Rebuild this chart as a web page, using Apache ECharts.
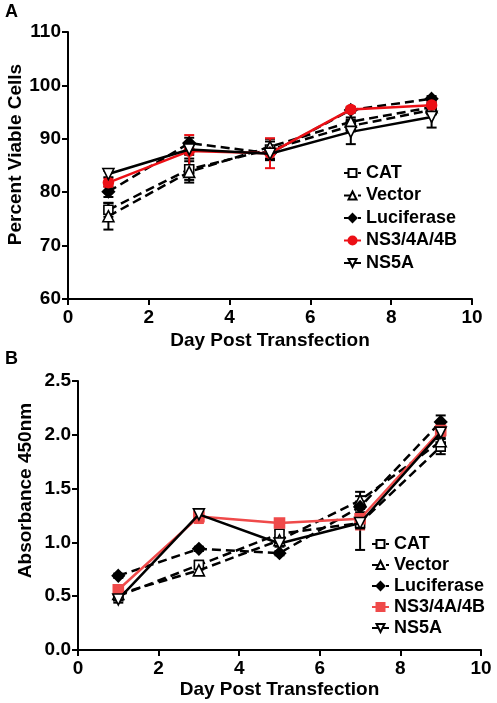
<!DOCTYPE html>
<html>
<head>
<meta charset="utf-8">
<script src="https://cdn.jsdelivr.net/npm/echarts@6/dist/echarts.min.js"></script>
<style>
html,body{margin:0;padding:0;background:#fff;}
#a{position:absolute;left:0;top:0;width:497px;height:350px;}
#b{position:absolute;left:0;top:350px;width:497px;height:353px;}
</style>
</head>
<body>
<div id="a"></div>
<div id="b"></div>
<script>
// ---------- data ----------
const days = [1, 3, 5, 7, 9];
const seriesNames = ['CAT', 'Vector', 'Luciferase', 'NS3/4A/4B', 'NS5A'];
const xTicks = [0, 2, 4, 6, 8, 10];

// Panel A: Percent Viable Cells
const catA    = [76.7, 84.3, 88.0, 92.4, 95.4];
const vectorA = [75.5, 83.8, 88.5, 93.2, 95.9];
const lucA    = [80.1, 89.2, 87.3, 95.4, 97.5];
const ns3A    = [81.8, 87.7, 87.3, 95.5, 96.3];
const ns5aA   = [83.4, 88.0, 87.2, 91.3, 94.1];
const catAErr    = [1.3, 2.0, 2.0, 1.0, 0.8];
const vectorAErr = [2.5, 2.0, 1.0, 0.8, 0.8];
const lucAErr    = [1.0, 1.0, 1.0, 0.5, 0.5];
const ns3AErr    = [0.8, 3.0, 2.8, 0.5, 0.8];
const ns5aAErr   = [0.6, 1.0, 1.0, 2.3, 2.0];
const yTicksA = [60, 70, 80, 90, 100, 110];

// Panel B: Absorbance 450nm
const catB    = [0.50, 0.79, 1.08, 1.18, 1.89];
const vectorB = [0.52, 0.74, 1.02, 1.39, 1.94];
const lucB    = [0.69, 0.94, 0.90, 1.33, 2.12];
const ns3B    = [0.56, 1.24, 1.18, 1.22, 2.04];
const ns5aB   = [0.47, 1.26, 0.99, 1.18, 2.02];
const catBErr    = [0.03, 0.04, 0.03, 0.25, 0.07];
const vectorBErr = [0.03, 0.04, 0.03, 0.08, 0.05];
const lucBErr    = [0.02, 0.02, 0.02, 0.05, 0.06];
const ns3BErr    = [0.03, 0.06, 0.03, 0.10, 0.05];
const ns5aBErr   = [0.03, 0.05, 0.03, 0.05, 0.05];
const yTicksB = [0.0, 0.5, 1.0, 1.5, 2.0, 2.5];

// ---------- styling ----------
const FONT = '"Liberation Sans", Arial, Helvetica, sans-serif';
const BLACK = '#000';
const RED_A = '#ec1016';
const RED_B = '#ef4a4a';

function styles(red, ns3Symbol) {
  return [
    {symbol: 'rect', size: 9, fill: '#fff', border: BLACK, line: BLACK, type: [9, 5], rot: 0},
    {symbol: 'triangle', size: 11, fill: '#fff', border: BLACK, line: BLACK, type: [9, 5], rot: 0},
    {symbol: 'diamond', size: 12, fill: BLACK, border: BLACK, line: BLACK, type: [9, 5], rot: 0},
    {symbol: ns3Symbol, size: 10, fill: red, border: red, line: red, type: 'solid', rot: 0},
    {symbol: 'triangle', size: 11, fill: '#fff', border: BLACK, line: BLACK, type: 'solid', rot: 180}
  ];
}

function pairs(vals) { return days.map((d, i) => [d, vals[i]]); }

function buildOption(cfg) {
  const st = styles(cfg.red, cfg.ns3Symbol);
  const errData = [];
  cfg.values.forEach((vals, si) => {
    vals.forEach((v, i) => {
      errData.push([days[i], v - cfg.errs[si][i], v + cfg.errs[si][i], si]);
    });
  });
  const series = [{
    type: 'custom',
    name: 'err',
    silent: true,
    z: 1,
    data: errData,
    renderItem: function (params, api) {
      const x = api.value(0), lo = api.value(1), hi = api.value(2), si = api.value(3);
      const p1 = api.coord([x, lo]), p2 = api.coord([x, hi]);
      const col = st[si].line;
      const w = 5;
      return {
        type: 'group',
        children: [
          {type: 'line', shape: {x1: p1[0], y1: p1[1], x2: p2[0], y2: p2[1]}, style: {stroke: col, lineWidth: 2}},
          {type: 'line', shape: {x1: p1[0] - w, y1: p1[1], x2: p1[0] + w, y2: p1[1]}, style: {stroke: col, lineWidth: 2}},
          {type: 'line', shape: {x1: p2[0] - w, y1: p2[1], x2: p2[0] + w, y2: p2[1]}, style: {stroke: col, lineWidth: 2}}
        ]
      };
    }
  }];
  seriesNames.forEach((nm, si) => {
    const s = st[si];
    series.push({
      type: 'line',
      name: nm,
      z: 3 + si,
      data: pairs(cfg.values[si]),
      symbol: s.symbol,
      symbolSize: s.size,
      symbolRotate: s.rot,
      showAllSymbol: true,
      lineStyle: {color: s.line, width: 2.5, type: s.type},
      itemStyle: {color: s.fill, borderColor: s.border, borderWidth: 1.6},
      emphasis: {disabled: true},
      animation: false
    });
  });
  return {
    animation: false,
    textStyle: {fontFamily: FONT},
    graphic: [{
      type: 'text', left: 5, top: cfg.labelTop,
      style: {text: cfg.panel, font: 'bold 18px ' + FONT, fill: BLACK}
    }],
    legend: {
      orient: 'vertical',
      left: cfg.legendLeft,
      top: cfg.legendTop,
      itemWidth: 17,
      itemHeight: 10,
      itemGap: cfg.legendGap,
      data: seriesNames,
      selectedMode: false,
      textStyle: {fontFamily: FONT, fontWeight: 'bold', fontSize: 18, color: BLACK}
    },
    grid: Object.assign({containLabel: false, outerBoundsMode: 'none'}, cfg.grid),
    xAxis: {
      type: 'value',
      min: 0, max: 10, interval: 2,
      name: 'Day Post Transfection',
      nameLocation: 'middle',
      nameGap: cfg.xNameGap,
      nameMoveOverlap: false,
      nameTextStyle: {fontFamily: FONT, fontWeight: 'bold', fontSize: 19, color: BLACK},
      axisLine: {show: true, onZero: false, lineStyle: {color: BLACK, width: 2}},
      axisTick: {show: true, length: 6, lineStyle: {color: BLACK, width: 2}},
      axisLabel: {fontFamily: FONT, fontWeight: 'bold', fontSize: 19, color: BLACK, margin: 9,
        formatter: v => xTicks.includes(v) ? String(v) : ''},
      splitLine: {show: false}
    },
    yAxis: {
      type: 'value',
      min: cfg.yMin, max: cfg.yMax, interval: cfg.yInterval,
      name: cfg.yName,
      nameLocation: 'middle',
      nameGap: cfg.yNameGap,
      nameMoveOverlap: false,
      nameTextStyle: {fontFamily: FONT, fontWeight: 'bold', fontSize: 19, color: BLACK, padding: cfg.yNamePad},
      axisLine: {show: true, onZero: false, lineStyle: {color: BLACK, width: 2}},
      axisTick: {show: true, length: 6, lineStyle: {color: BLACK, width: 2}},
      axisLabel: {fontFamily: FONT, fontWeight: 'bold', fontSize: 19, color: BLACK, margin: 7,
        formatter: cfg.yFormatter},
      splitLine: {show: false}
    },
    series: series
  };
}

const chartA = echarts.init(document.getElementById('a'), null, {renderer: 'canvas'});
chartA.setOption(buildOption({
  panel: 'A', labelTop: 3,
  red: RED_A, ns3Symbol: 'circle',
  values: [catA, vectorA, lucA, ns3A, ns5aA],
  errs: [catAErr, vectorAErr, lucAErr, ns3AErr, ns5aAErr],
  grid: {left: 68, right: 25, top: 32, bottom: 51},
  legendLeft: 338, legendTop: 159, legendGap: 4.5,
  xNameGap: 32,
  yMin: yTicksA[0], yMax: yTicksA[yTicksA.length - 1], yInterval: 10,
  yName: 'Percent Viable Cells', yNameGap: 43, yNamePad: [0, 0, 0, 22],
  yFormatter: v => String(v)
}));

const chartB = echarts.init(document.getElementById('b'), null, {renderer: 'canvas'});
chartB.setOption(buildOption({
  panel: 'B', labelTop: 0,
  red: RED_B, ns3Symbol: 'rect',
  values: [catB, vectorB, lucB, ns3B, ns5aB],
  errs: [catBErr, vectorBErr, lucBErr, ns3BErr, ns5aBErr],
  grid: {left: 78, right: 16, top: 31, bottom: 53},
  legendLeft: 366, legendTop: 180, legendGap: 3,
  xNameGap: 30,
  yMin: yTicksB[0], yMax: yTicksB[yTicksB.length - 1], yInterval: 0.5,
  yName: 'Absorbance 450nm', yNameGap: 43, yNamePad: [0, 0, 0, 50],
  yFormatter: v => v.toFixed(1)
}));
</script>
</body>
</html>
